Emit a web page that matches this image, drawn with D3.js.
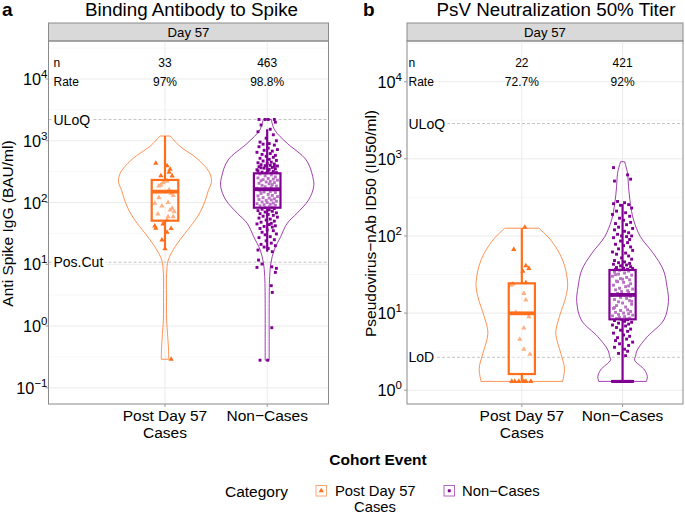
<!DOCTYPE html>
<html>
<head>
<meta charset="utf-8">
<script src="https://cdn.jsdelivr.net/npm/d3@7"></script>
<style>
  body { margin: 0; background: #fff; }
  text { font-family: "Liberation Sans", Arial, sans-serif; fill: #000; }
</style>
</head>
<body>
<svg id="chart" width="685" height="514"></svg>
<script>
// --- Data ---
const categories = [['Post Day 57', 'Cases'], ['Non\u2212Cases']];
const catColors = ['#FF6F1B', '#810094'];
const panelLetters = ['a', 'b'];
const panelTitles = ['Binding Antibody to Spike', 'PsV Neutralization 50% Titer'];
const stripLabel = 'Day 57';
const yTitles = ['Anti Spike IgG (BAU/ml)', 'Pseudovirus\u2212nAb ID50 (IU50/ml)'];
const xTitle = 'Cohort Event';
const legendTitle = 'Category';

const countsA = [33, 463];
const ratesA = ['97%', '98.8%'];
const countsB = [22, 421];
const ratesB = ['72.7%', '92%'];

const tickExpA = [-1, 0, 1, 2, 3, 4];
const tickExpB = [0, 1, 2, 3, 4];

const refLinesA = [['ULoQ', 2210], ['Pos.Cut', 10.8]];
const refLinesB = [['ULoQ', 2870], ['LoD', 2.67]];

// lower whisker, Q1, median, Q3, upper whisker
const boxesA = [[18.1, 50.8, 150, 232, 1194], [16, 82.4, 164, 297, 1535]];
const boxesB = [[1.3, 1.62, 9.93, 24.3, 126], [1.3, 8.3, 17.2, 36.2, 260]];

// violin outlines: [value, relative half-width]
const violinA_cases = [[1194, .11], [802, .33], [575, .61], [431, .80], [302, .96], [217, 1.0], [155, .93],
  [110, .87], [75.7, .78], [52, .65], [31.8, .43], [19.3, .22], [11.7, .07], [7.1, .035], [3.16, .033],
  [1.25, .035], [0.76, .054], [0.41, .076], [0.29, .08]];
const violinA_non = [[2220, .087], [1490, .16], [910, .43], [488, .84], [262, .98], [180, 1.0], [110, .89],
  [66.8, .64], [46.1, .43], [28, .29], [17, .15], [10.4, .08], [6.3, .053], [2.0, .043], [0.63, .043], [0.28, .043]];
const violinB_cases = [[126, .37], [88.7, .63], [48.8, .89], [24.3, 1.0], [16.3, .96], [8.97, .82],
  [5.47, .74], [3.01, .85], [1.92, .93], [1.3, .89]];
const violinB_non = [[918, .044], [649, .11], [436, .13], [265, .17], [161, .24], [97.7, .39], [59.6, .67],
  [36.2, .89], [22, .97], [14.1, 1.0], [8.13, .9], [4.94, .54], [3.32, .32], [2.72, .28], [2.47, .26],
  [1.83, .48], [1.5, .54], [1.3, .52]];

// points: [value, jitter in category units]
const pointsA_cases = [[431, -0.09], [395, 0.02], [345, 0.05], [308, 0.04], [272, -0.04], [270, 0.07], [223, 0.02],
  [222, 0.0], [185, -0.06], [192, -0.04], [141, 0.06], [97, -0.1], [80.5, 0.07], [75.7, 0.05], [71, 0.09],
  [58.9, 0.08], [58.9, 0.03], [44.9, -0.02], [41.7, -0.1], [38.2, -0.09], [38, 0.06], [32.9, 0.02], [24.7, -0.03],
  [17.9, 0.0], [0.29, 0.06], [210, -0.02], [160, 0.04], [120, -0.06], [100, 0.03], [88, -0.03], [65, -0.07],
  [52, 0.02], [130, 0.08]];
const pointsA_non = [[2210, -0.08], [2210, -0.02], [2210, 0.01], [2210, 0.07], [2000, 0.08], [1800, -0.06], [1535, 0.03],
  [1400, -0.09], [1250, 0.06], [1100, -0.01], [1000, 0.09], [950, -0.07], [900, 0.02],
  [880, -0.04], [850, 0.07], [800, -0.08], [760, 0.01], [720, 0.1], [700, -0.03], [680, 0.05], [650, -0.1],
  [620, 0.03], [600, -0.05], [580, 0.08], [560, -0.01], [540, 0.06], [520, -0.07], [500, 0.02], [480, 0.09],
  [470, -0.04], [450, 0.04], [440, -0.09], [430, 0.0], [420, 0.07], [410, -0.06], [400, 0.03], [395, -0.02], [390, 0.1],
  [380, -0.08], [370, 0.05], [360, -0.03], [350, 0.08], [340, -0.1], [330, 0.01], [320, 0.06], [310, -0.05],
  [305, 0.09], [300, -0.01], [298, 0.04], [365, -0.06], [345, 0.02], [325, -0.09], [385, 0.07],
  [290, -0.07], [280, 0.04], [270, -0.02], [260, 0.08], [250, -0.09], [245, 0.01], [240, 0.06], [235, -0.04],
  [230, 0.1], [225, -0.06], [220, 0.03], [215, -0.01], [210, 0.07], [205, -0.08], [200, 0.02], [195, 0.05],
  [190, -0.05], [185, 0.09], [180, -0.02], [175, 0.04], [170, -0.1], [165, 0.0], [160, 0.06], [155, -0.07],
  [150, 0.03], [148, -0.03], [145, 0.08], [140, -0.06], [135, 0.01], [130, 0.05], [128, -0.09], [125, 0.1],
  [120, -0.04], [118, 0.02], [115, 0.07], [112, -0.08], [110, 0.04], [108, -0.01], [105, 0.09], [102, -0.05],
  [100, 0.0], [98, 0.06], [96, -0.1], [94, 0.03], [92, -0.03], [90, 0.08], [88, -0.07], [86, 0.02], [84, 0.05], [83, -0.02],
  [80, 0.07], [78, -0.05], [76, 0.02], [74, -0.09], [72, 0.05], [70, -0.02], [68, 0.09], [66, -0.07], [64, 0.01],
  [62, 0.06], [60, -0.04], [58, 0.1], [56, -0.08], [54, 0.03], [52, -0.01], [50, 0.07], [48, -0.06], [46, 0.04],
  [45, -0.1], [44, 0.02], [42, 0.08], [41, -0.03], [40, 0.05], [38, -0.07], [36, 0.0],
  [35, 0.06], [33, -0.05], [31, 0.09], [30, -0.02], [28, 0.03], [27, -0.08], [25, 0.07], [24, -0.01], [22, 0.04],
  [21, -0.06], [20, 0.08], [19, -0.03], [18, 0.01], [17, -0.09], [16, 0.05],
  [11.7, -0.085], [10.1, -0.05], [8.9, -0.1], [9.1, 0.045], [8.6, 0.09], [7.4, 0.08], [4.5, 0.04], [3.5, 0.05],
  [0.94, 0.045], [0.28, -0.07], [0.28, 0.005]];
const pointsB_cases = [[130, 0.03], [67, -0.08], [41, 0.04], [38, 0.07], [35, 0.01], [24.8, 0.04], [23.6, -0.09],
  [23, -0.11], [18, 0.02], [14.8, 0.04], [10.2, -0.06], [9, 0.07], [6.4, 0.02], [4.57, -0.02], [3.4, 0.02],
  [2.93, 0.08], [1.3, -0.1], [1.3, -0.07], [1.3, -0.03], [1.3, 0.02], [1.3, 0.04], [1.3, 0.09]];
const pointsB_non = [[770, -0.09], [620, 0.05], [545, 0.08], [515, -0.08], [280, -0.05], [270, 0.02], [262, -0.09],
  [255, 0.06], [250, -0.02],
  [230, 0.09], [210, -0.06], [200, 0.03], [190, -0.1], [180, 0.07], [170, -0.03], [160, 0.01], [150, 0.08],
  [145, -0.07], [140, 0.04], [130, -0.04], [125, 0.1], [120, -0.08], [115, 0.02], [110, 0.06], [105, -0.05],
  [100, 0.09], [100, -0.01],
  [98, 0.04], [95, -0.09], [90, 0.07], [86, -0.02], [82, 0.05], [78, -0.07], [75, 0.01], [72, 0.08], [68, -0.04],
  [65, 0.1], [62, -0.1], [60, 0.03], [58, -0.06], [55, 0.06], [52, -0.01], [50, 0.09], [48, -0.08], [46, 0.02],
  [45, -0.04], [44, 0.07], [43, -0.09], [42, 0.04], [41, -0.02], [40, 0.08], [39, -0.06], [38, 0.01], [38, 0.1],
  [37, -0.07], [37, 0.05], [36, -0.03],
  [35, 0.06], [34, -0.08], [33, 0.02], [32, -0.04], [31, 0.09], [30, -0.1], [29, 0.04], [28, -0.02], [27, 0.07],
  [26, -0.06], [25, 0.01], [24, 0.08], [23, -0.09], [22, 0.03], [21, -0.03], [20.5, 0.1], [20, -0.07], [19.5, 0.05],
  [19, -0.01], [18.5, 0.06], [18, -0.05], [17.5, 0.02], [17, -0.1], [16.5, 0.08], [16, -0.02], [15.5, 0.04],
  [15, -0.08], [14.5, 0.07], [14, -0.04], [13.5, 0.0], [13, 0.09], [12.5, -0.06], [12, 0.03], [11.5, -0.09],
  [11, 0.05], [10.8, -0.02], [10.5, 0.08], [10.2, -0.07], [10, 0.01], [9.8, 0.06], [9.6, -0.04], [9.4, 0.1],
  [9.2, -0.1], [9, 0.02], [8.8, -0.03], [8.6, 0.07], [8.5, -0.06], [8.4, 0.04], [8.3, -0.01], [25.5, -0.05],
  [22.5, 0.06], [27.5, 0.0], [31.5, -0.07], [14.2, 0.09], [11.8, -0.08],
  [8.2, 0.05], [8.0, -0.08], [7.8, 0.02], [7.6, 0.09], [7.4, -0.04], [7.2, 0.06], [7.0, -0.1], [6.8, 0.03],
  [6.5, -0.06], [6.2, 0.08], [6.0, -0.02], [5.8, 0.05], [5.5, -0.09], [5.2, 0.01], [5.0, 0.07], [4.8, -0.05],
  [4.6, 0.04], [4.4, -0.07], [4.2, 0.1], [4.0, -0.03], [3.8, 0.06], [3.6, -0.08], [3.4, 0.02], [3.2, 0.05],
  [3.0, -0.04], [2.8, 0.03],
  [1.3, -0.1], [1.3, -0.09], [1.3, -0.08], [1.3, -0.07], [1.3, -0.06], [1.3, -0.05], [1.3, -0.04], [1.3, -0.03],
  [1.3, -0.02], [1.3, -0.01], [1.3, 0.0], [1.3, 0.01], [1.3, 0.02], [1.3, 0.03], [1.3, 0.04], [1.3, 0.05],
  [1.3, 0.06], [1.3, 0.07], [1.3, 0.08], [1.3, 0.09], [1.3, 0.1]];

// --- Layout ---
const svg = d3.select('#chart');
const gridMajor = '#ebebeb', gridMinor = '#f4f4f4', borderCol = '#8a8a8a';
const boxHalf = 0.13, violinHalf = 0.455;
const symbols = [d3.symbol().type(d3.symbolTriangle).size(12), d3.symbol().type(d3.symbolSquare).size(8.5)];

const panels = [
  { left: 48.5, right: 328.5, top: 41, bottom: 404, yDomain: [Math.pow(10, -1.262), Math.pow(10, 4.615)],
    ticks: tickExpA, refs: refLinesA, counts: countsA, rates: ratesA, boxes: boxesA,
    violins: [violinA_cases, violinA_non], points: [pointsA_cases, pointsA_non],
    inset: 5, tickLabelX: 47.5, yTitleX: 13, titleX: 191.5, letterX: 2 },
  { left: 407, right: 683, top: 41, bottom: 404, yDomain: [Math.pow(10, -0.179), Math.pow(10, 4.528)],
    ticks: tickExpB, refs: refLinesB, counts: countsB, rates: ratesB, boxes: boxesB,
    violins: [violinB_cases, violinB_non], points: [pointsB_cases, pointsB_non],
    inset: 1.5, tickLabelX: 402, yTitleX: 376, titleX: 556, letterX: 363 }
];

panels.forEach((p, pi) => drawPanel(p, pi));

function drawPanel(p, pi) {
  const g = svg.append('g');
  const x = d3.scaleLinear().domain([-0.14, 2.6]).range([p.left, p.right]);
  const y = d3.scaleLog().domain(p.yDomain).range([p.bottom, p.top]);

  // title + letter
  g.append('text').attr('x', p.letterX).attr('y', 16).attr('font-size', 19).attr('font-weight', 'bold').text(panelLetters[pi]);
  g.append('text').attr('x', p.titleX).attr('y', 16).attr('font-size', 18.8).attr('text-anchor', 'middle').text(panelTitles[pi]);

  // strip
  g.append('rect').attr('x', p.left).attr('y', 23).attr('width', p.right - p.left).attr('height', p.top - 23)
    .attr('fill', '#d9d9d9').attr('stroke', borderCol).attr('stroke-width', 1);
  g.append('text').attr('x', (p.left + p.right) / 2).attr('y', 37).attr('font-size', 13.2)
    .attr('text-anchor', 'middle').attr('fill', '#1a1a1a').text(stripLabel);

  // grid
  const minor = p.ticks.map(e => Math.pow(10, e + 0.5)).concat([Math.pow(10, p.ticks[0] - 0.5)])
    .filter(v => v > p.yDomain[0] && v < p.yDomain[1]);
  g.selectAll('.gmin').data(minor).enter().append('line')
    .attr('x1', p.left).attr('x2', p.right).attr('y1', d => y(d)).attr('y2', d => y(d))
    .attr('stroke', gridMinor).attr('stroke-width', 0.7);
  g.selectAll('.gmaj').data(p.ticks).enter().append('line')
    .attr('x1', p.left).attr('x2', p.right).attr('y1', d => y(Math.pow(10, d))).attr('y2', d => y(Math.pow(10, d)))
    .attr('stroke', gridMajor).attr('stroke-width', 1);
  g.selectAll('.gx').data([1, 2]).enter().append('line')
    .attr('x1', d => x(d)).attr('x2', d => x(d)).attr('y1', p.top).attr('y2', p.bottom)
    .attr('stroke', gridMajor).attr('stroke-width', 1);

  // reference lines with labels
  p.refs.forEach(([label, v]) => {
    g.append('line').attr('x1', p.left).attr('x2', p.right).attr('y1', y(v)).attr('y2', y(v))
      .attr('stroke', '#c4c4c4').attr('stroke-width', 1).attr('stroke-dasharray', '3,2');
    const t = g.append('text').attr('x', p.left + p.inset).attr('y', y(v)).attr('dy', '0.36em')
      .attr('font-size', 14).text(label);
    const bb = t.node().getBBox();
    g.insert('rect', () => t.node()).attr('x', bb.x - 1).attr('y', bb.y).attr('width', bb.width + 3).attr('height', bb.height)
      .attr('fill', '#fff');
  });

  // n / Rate
  g.append('text').attr('x', p.left + p.inset).attr('y', 67).attr('font-size', 12).text('n');
  g.append('text').attr('x', p.left + p.inset).attr('y', 85.5).attr('font-size', 12).text('Rate');
  [1, 2].forEach((c, i) => {
    g.append('text').attr('x', x(c)).attr('y', 67).attr('font-size', 12).attr('text-anchor', 'middle').text(p.counts[i]);
    g.append('text').attr('x', x(c)).attr('y', 85.5).attr('font-size', 12).attr('text-anchor', 'middle').text(p.rates[i]);
  });

  // violins, points, boxes
  [1, 2].forEach((c, i) => {
    const col = catColors[i];
    const area = d3.area()
      .y(d => y(d[0]))
      .x0(d => x(c - d[1] * violinHalf))
      .x1(d => x(c + d[1] * violinHalf))
      .curve(d3.curveCatmullRom);
    g.append('path').datum(p.violins[i]).attr('d', area)
      .attr('fill', 'none').attr('stroke', col).attr('stroke-opacity', 0.75).attr('stroke-width', 1);

    g.selectAll('.pt' + i).data(p.points[i]).enter().append('path')
      .attr('d', symbols[i])
      .attr('transform', d => `translate(${x(c + d[1])},${y(d[0])})`)
      .attr('fill', col);

    const b = p.boxes[i];
    g.append('line').attr('x1', x(c)).attr('x2', x(c)).attr('y1', y(b[0])).attr('y2', y(b[1]))
      .attr('stroke', col).attr('stroke-width', 2.2);
    g.append('line').attr('x1', x(c)).attr('x2', x(c)).attr('y1', y(b[3])).attr('y2', y(b[4]))
      .attr('stroke', col).attr('stroke-width', 2.2);
    g.append('rect').attr('x', x(c - boxHalf)).attr('width', x(c + boxHalf) - x(c - boxHalf))
      .attr('y', y(b[3])).attr('height', y(b[1]) - y(b[3]))
      .attr('fill', '#fff').attr('fill-opacity', 0.45).attr('stroke', col).attr('stroke-width', 2.2);
    g.append('line').attr('x1', x(c - boxHalf)).attr('x2', x(c + boxHalf)).attr('y1', y(b[2])).attr('y2', y(b[2]))
      .attr('stroke', col).attr('stroke-width', 3.8);
  });

  // border
  g.append('rect').attr('x', p.left).attr('y', p.top).attr('width', p.right - p.left).attr('height', p.bottom - p.top)
    .attr('fill', 'none').attr('stroke', borderCol).attr('stroke-width', 1);

  // y axis ticks and labels
  p.ticks.forEach(e => {
    const yy = y(Math.pow(10, e));
    g.append('line').attr('x1', p.left - 3).attr('x2', p.left).attr('y1', yy).attr('y2', yy)
      .attr('stroke', '#9a9a9a').attr('stroke-width', 1);
    const t = g.append('text').attr('x', p.tickLabelX).attr('y', yy + 6).attr('font-size', 16.3).attr('text-anchor', 'end');
    t.append('tspan').text('10');
    t.append('tspan').attr('dy', -7).attr('font-size', 11.5).text(e < 0 ? '\u2212' + Math.abs(e) : e);
  });
  g.append('text').attr('transform', `translate(${p.yTitleX},${(p.top + p.bottom) / 2 + 1}) rotate(-90)`)
    .attr('font-size', 15.5).attr('text-anchor', 'middle').text(yTitles[pi]);

  // x axis ticks and labels (multi-line labels as one text with tspans)
  [1, 2].forEach((c, i) => {
    g.append('line').attr('x1', x(c)).attr('x2', x(c)).attr('y1', p.bottom).attr('y2', p.bottom + 3)
      .attr('stroke', '#9a9a9a').attr('stroke-width', 1);
    const t = g.append('text').attr('y', 421).attr('font-size', 15.5).attr('text-anchor', 'middle');
    categories[i].forEach((line, li) => {
      t.append('tspan').attr('x', x(c)).attr('dy', li === 0 ? 0 : 16.5).text(line);
    });
  });
}

// shared x title
svg.append('text').attr('x', 378).attr('y', 465).attr('font-size', 15.5).attr('font-weight', 'bold')
  .attr('text-anchor', 'middle').text(xTitle);

// legend
svg.append('text').attr('x', 225).attr('y', 497).attr('font-size', 15.5).text(legendTitle);
const legendX = [316, 444];
categories.forEach((lines, i) => {
  const lx = legendX[i];
  svg.append('rect').attr('x', lx).attr('y', 485.5).attr('width', 10.5).attr('height', 10.5)
    .attr('fill', '#fff').attr('stroke', catColors[i]).attr('stroke-opacity', 0.6).attr('stroke-width', 1);
  svg.append('path').attr('d', symbols[i]).attr('transform', `translate(${lx + 5.25},${490.75})`).attr('fill', catColors[i]);
  const t = svg.append('text').attr('y', 496).attr('font-size', 14.8);
  if (lines.length > 1) {
    t.append('tspan').attr('x', lx + 19).text(lines[0]);
    t.append('tspan').attr('x', lx + 59).attr('dy', 16).attr('text-anchor', 'middle').text(lines[1]);
  } else {
    t.append('tspan').attr('x', lx + 18).text(lines[0]);
  }
});
</script>
</body>
</html>
